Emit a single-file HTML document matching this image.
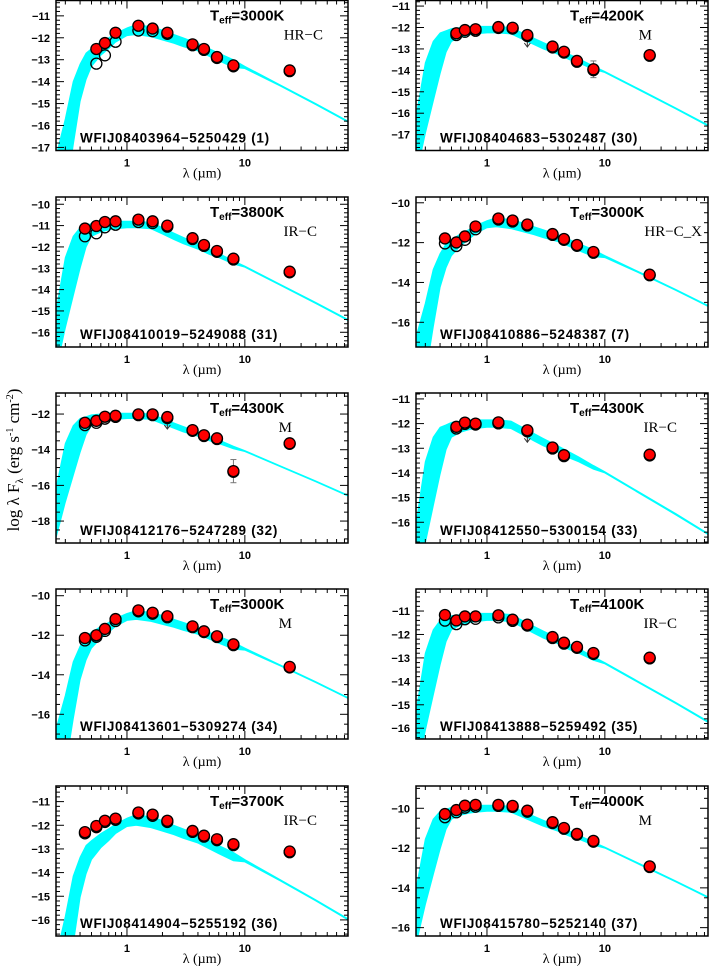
<!DOCTYPE html>
<html><head><meta charset="utf-8">
<style>
html,body{margin:0;padding:0;background:#fff;width:710px;height:967px;overflow:hidden;}
svg{display:block;}
.tk{font-family:"Liberation Sans",sans-serif;font-weight:bold;font-size:11px;}
.nm{font-family:"Liberation Sans",sans-serif;font-weight:bold;font-size:13.5px;letter-spacing:0.7px;}
.te{font-family:"Liberation Sans",sans-serif;font-weight:bold;font-size:15px;}
.cl{font-family:"Liberation Serif",serif;font-size:15px;}
.xl{font-family:"Liberation Serif",serif;font-size:14px;}
</style></head>
<body>
<svg id="fig" width="710" height="967" viewBox="0 0 710 967" xmlns="http://www.w3.org/2000/svg">
<text transform="translate(19,460) rotate(-90)" text-anchor="middle" font-family="Liberation Serif, serif" font-size="17">log λ F<tspan font-size="11" dy="4">λ</tspan><tspan dy="-4">   (erg s</tspan><tspan font-size="10" dy="-6">-1</tspan><tspan dy="6"> cm</tspan><tspan font-size="10" dy="-6">-2</tspan><tspan dy="6">)</tspan></text>
</svg>
<script>
// ---- data ----
const bandWl = [0.44,0.55,0.65,0.8,1.25,1.65,2.2,3.6,4.5,5.8,8.0,24];
const names = ["WFIJ08403964-5250429 (1)","WFIJ08404683-5302487 (30)","WFIJ08410019-5249088 (31)","WFIJ08410886-5248387 (7)","WFIJ08412176-5247289 (32)","WFIJ08412550-5300154 (33)","WFIJ08413601-5309274 (34)","WFIJ08413888-5259492 (35)","WFIJ08414904-5255192 (36)","WFIJ08415780-5252140 (37)"];
const teffs = [3000,4200,3800,3000,4300,4300,3000,4100,3700,4000];
const classes = ["HR-C","M","IR-C","HR-C_X","M","IR-C","M","IR-C","IR-C","M"];
const yDomains = [[-17.14,-10.3],[-17.74,-10.74],[-16.69,-9.66],[-17.24,-9.71],[-19.23,-10.82],[-16.84,-10.76],[-17.25,-9.66],[-16.46,-10.06],[-16.68,-10.34],[-16.42,-8.88]];
const yTicks = [[-11,-12,-13,-14,-15,-16,-17],[-11,-12,-13,-14,-15,-16,-17],[-10,-11,-12,-13,-14,-15,-16],[-10,-12,-14,-16],[-12,-14,-16,-18],[-11,-12,-13,-14,-15,-16],[-10,-12,-14,-16],[-11,-12,-13,-14,-15,-16],[-11,-12,-13,-14,-15,-16],[-10,-12,-14,-16]];
const redF = [
 [null,-12.51,-12.24,-11.77,-11.45,-11.58,-11.77,-12.3,-12.51,-12.88,-13.26,-13.49],
 [null,-12.27,-12.12,-12.08,-11.98,-12.01,-12.35,-12.89,-13.13,-13.56,-13.95,-13.29],
 [-11.14,-11.02,-10.83,-10.8,-10.72,-10.8,-11.0,-11.59,-11.91,-12.19,-12.55,-13.16],
 [-11.79,-11.99,-11.69,-11.19,-10.79,-10.89,-11.09,-11.57,-11.82,-12.12,-12.47,-13.61],
 [-12.49,-12.38,-12.15,-12.1,-12.02,-12.02,-12.17,-12.9,-13.19,-13.36,-15.2,-13.64],
 [null,-12.13,-11.96,-12.0,-11.95,null,-12.27,-12.97,-13.28,null,null,-13.26],
 [-12.14,-12.0,-11.68,-11.18,-10.74,-10.86,-11.04,-11.55,-11.8,-12.05,-12.46,-13.6],
 [-11.17,-11.4,-11.23,-11.23,-11.18,-11.37,-11.58,-12.11,-12.35,-12.53,-12.79,-12.99],
 [-12.29,-12.03,-11.81,-11.72,-11.46,-11.55,-11.81,-12.24,-12.44,-12.59,-12.8,-13.11],
 [-10.29,-10.09,-9.87,-9.83,-9.83,-9.88,-10.12,-10.7,-10.99,-11.29,-11.64,-12.92]];
const obsF = [
 [null,-13.18,-12.8,-12.18,-11.67,-11.7,-11.82,-12.34,-12.55,-12.92,-13.3,-13.52],
 [null,-12.35,-12.2,-12.15,-12.02,-12.05,-12.4,-12.93,-13.17,-13.6,-13.99,-13.32],
 [-11.5,-11.36,-11.08,-10.96,-10.83,-10.88,-11.05,-11.63,-11.95,-12.23,-12.59,-13.19],
 [-12.04,-12.17,-11.86,-11.33,-10.84,-10.94,-11.14,-11.61,-11.86,-12.16,-12.51,-13.64],
 [-12.62,-12.49,-12.26,-12.16,-12.06,-12.06,-12.22,-12.94,-13.23,-13.4,-15.24,-13.67],
 [null,-12.2,-12.01,-12.04,-11.99,null,-12.31,-13.01,-13.32,null,null,-13.29],
 [-12.26,-12.08,-11.78,-11.28,-10.79,-10.91,-11.09,-11.59,-11.84,-12.09,-12.5,-13.63],
 [-11.41,-11.56,-11.35,-11.33,-11.27,-11.42,-11.62,-12.15,-12.39,-12.57,-12.83,-13.02],
 [-12.34,-12.08,-11.86,-11.77,-11.5,-11.6,-11.86,-12.28,-12.48,-12.63,-12.84,-13.14],
 [-10.45,-10.2,-9.97,-9.92,-9.88,-9.93,-10.17,-10.74,-11.03,-11.33,-11.68,-12.95]];
const upperLimitK = [false,true,false,false,true,true,false,false,false,false];
const errBar8 = [null,0.39,null,null,0.65,null,null,null,null,null];
const tplWl = [0.25,0.3,0.35,0.4,0.45,0.5,0.6,0.7,0.8,1.0,1.2,1.6,2.0,2.5,3,4,5,6,8,10,20,40,75];
const coolUp = [-6,-4.3,-2.6,-1.8,-1.3,-1.1,-0.8,-0.6,-0.4,-0.15,0,-0.1,-0.25,-0.45,-0.6,-0.85,-1.1,-1.3,-1.6,-1.9,-2.75,-3.6,-4.4];
const coolLo = [-9,-8,-5.5,-3.5,-2.5,-1.9,-1.4,-1.1,-0.8,-0.5,-0.45,-0.55,-0.7,-0.85,-1.0,-1.2,-1.45,-1.65,-1.95,-2.0,-2.8,-3.65,-4.45];
const warmUp = [-4.2,-1.7,-0.7,-0.3,-0.2,-0.1,-0.05,0,0,0,0,-0.05,-0.3,-0.55,-0.75,-1.05,-1.3,-1.5,-1.85,-2.1,-2.95,-3.8,-4.6];
const warmLo = [-7,-5,-3.5,-2.2,-1.2,-0.7,-0.5,-0.4,-0.35,-0.3,-0.3,-0.35,-0.6,-0.85,-1.05,-1.3,-1.55,-1.7,-2.0,-2.15,-3.0,-3.85,-4.65];
const modelType = ["cool","warm","warm","cool","warm","warm","cool","warm","cool","warm"];
const modelPeak = [-11.4,-11.95,-10.8,-10.75,-11.95,-11.85,-10.75,-11.1,-11.55,-9.85];

const colX=[56,416], rowY=[0.5,197,393,589,786], W=292, H=150;
const LMIN=0.25, LMAX=75;
const NS="http://www.w3.org/2000/svg";
const fig=document.getElementById('fig');
function mk(tag,attrs,parent){const e=document.createElementNS(NS,tag);for(const k in attrs)e.setAttribute(k,attrs[k]);(parent||fig).appendChild(e);return e;}
const clsEnd={"HR-C":267,"M":236,"IR-C":261,"HR-C_X":286};

for(let p=0;p<10;p++){
  const x0=colX[p%2], y0=rowY[Math.floor(p/2)];
  const [ymin,ymax]=yDomains[p];
  const X=l=>x0+(Math.log10(l)-Math.log10(LMIN))/(Math.log10(LMAX)-Math.log10(LMIN))*W;
  const Y=v=>y0+(ymax-v)/(ymax-ymin)*H;
  const g=mk('g',{});
  
  
  const cid='clip'+p;
  const cp=mk('clipPath',{id:cid},g); mk('rect',{x:x0,y:y0,width:W,height:H},cp);
  const up=modelType[p]==="cool"?coolUp:warmUp, lo=modelType[p]==="cool"?coolLo:warmLo;
  let pts=[];
  for(let i=0;i<tplWl.length;i++) pts.push(X(tplWl[i]).toFixed(1)+','+Y(modelPeak[p]+up[i]).toFixed(1));
  for(let i=tplWl.length-1;i>=0;i--) pts.push(X(tplWl[i]).toFixed(1)+','+Y(modelPeak[p]+lo[i]).toFixed(1));
  const m=mk('polygon',{points:pts.join(' '),fill:'#00ffff',stroke:'#00ffff','stroke-width':1,'clip-path':'url(#'+cid+')'},g);
  
  
  const fr=mk('rect',{x:x0,y:y0,width:W,height:H,fill:'none',stroke:'#000','stroke-width':1.5},g);
  
  
  for(let d=-1;d<=1;d++)for(let k=1;k<10;k++){
    const l=k*Math.pow(10,d); if(l<LMIN||l>LMAX)continue;
    const xx=X(l), len=k===1?8:4;
    mk('line',{x1:xx,x2:xx,y1:y0+H,y2:y0+H-len,stroke:'#000','stroke-width':1},g);
    mk('line',{x1:xx,x2:xx,y1:y0,y2:y0+len,stroke:'#000','stroke-width':1},g);
    if(k===1&&d>=0){const t=mk('text',{x:xx,y:y0+H+16,'text-anchor':'middle',class:'tk'},g);t.textContent=String(l);
      
      }
  }
  const yt=yTicks[p], step=Math.abs(yt[1]-yt[0]), ms=step/(step===1?5:4);
  for(let v=Math.ceil(ymin/ms)*ms; v<=ymax; v+=ms){
    const yy=Y(v), major=Math.abs(v/step-Math.round(v/step))<1e-6, len=major?8:4;
    mk('line',{x1:x0,x2:x0+len,y1:yy,y2:yy,stroke:'#000','stroke-width':1},g);
    mk('line',{x1:x0+W,x2:x0+W-len,y1:yy,y2:yy,stroke:'#000','stroke-width':1},g);
  }
  yt.forEach(v=>{const t=mk('text',{x:x0-6,y:Y(v)+4,'text-anchor':'end',class:'tk'},g);t.textContent='\u2212'+Math.abs(v);
    
    });
  const xt=mk('text',{x:x0+146,y:y0+H+27,'text-anchor':'middle',class:'xl'},g);xt.textContent='λ   (µm)';
  
  
  if(errBar8[p]!==null){const xx=X(8.0),v=redF[p][10],e=errBar8[p];
    mk('line',{x1:xx,x2:xx,y1:Y(v+e),y2:Y(v-e),stroke:'#777','stroke-width':1},g);
    mk('line',{x1:xx-3,x2:xx+3,y1:Y(v+e),y2:Y(v+e),stroke:'#777','stroke-width':1},g);
    mk('line',{x1:xx-3,x2:xx+3,y1:Y(v-e),y2:Y(v-e),stroke:'#777','stroke-width':1},g);}
  if(upperLimitK[p]){const xx=X(2.2),yy=Y(redF[p][6]);
    mk('path',{d:`M${xx},${yy} v12 m-3,-4 l3,4 l3,-4`,fill:'none',stroke:'#333','stroke-width':1},g);}
  for(let i=0;i<bandWl.length;i++){const v=obsF[p][i];if(v===null)continue;
    const c=mk('circle',{cx:X(bandWl[i]),cy:Y(v),r:5.5,fill:'none',stroke:'#000','stroke-width':1.3},g);
    
    }
  for(let i=0;i<bandWl.length;i++){const v=redF[p][i];if(v===null)continue;
    const c=mk('circle',{cx:X(bandWl[i]),cy:Y(v),r:5.5,fill:'#ff0000',stroke:'#000','stroke-width':1.3},g);
    
    }
  const te=mk('text',{x:x0+154,y:y0+20,class:'te'},g);
  te.innerHTML='T<tspan font-size="10" dy="3">eff</tspan><tspan dy="-3">='+teffs[p]+'K</tspan>';
  
  
  const cl=mk('text',{x:x0+clsEnd[classes[p]],y:y0+39,'text-anchor':'end',class:'cl'},g);
  cl.textContent=classes[p].replace('-','\u2212');
  
  
  const nm=mk('text',{x:x0+24,y:y0+142,class:'nm'},g);
  nm.textContent=names[p].replace('-','\u2212');
  
  
}
</script>
</body></html>
